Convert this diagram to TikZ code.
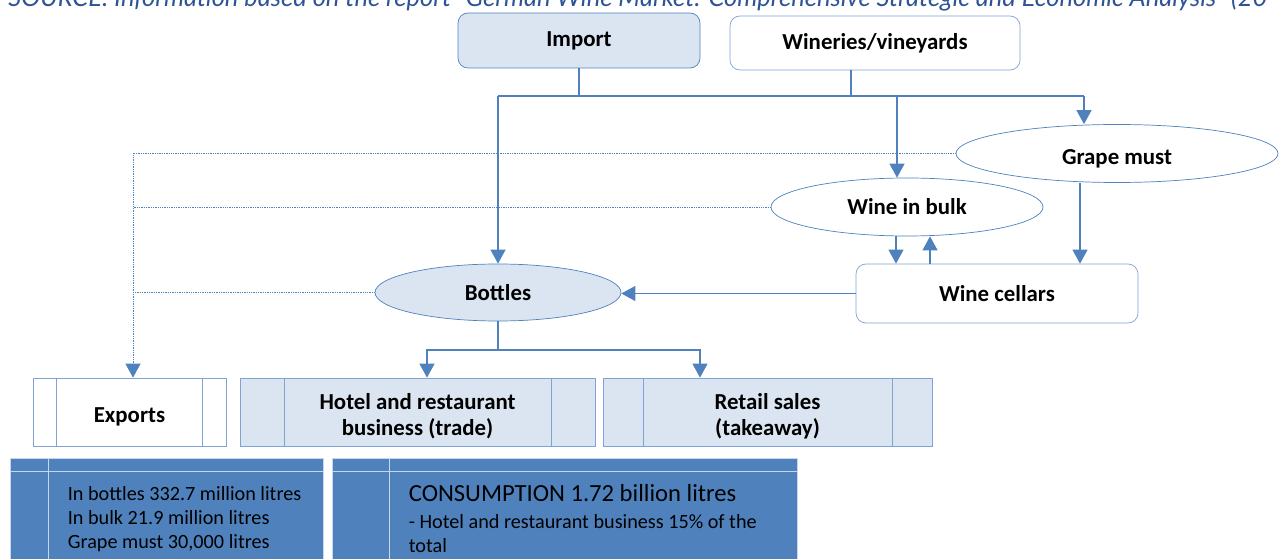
\documentclass[tikz,border=0pt]{standalone}
\usepackage{fontspec}
\setmainfont{Carlito}
\newfontfamily\capfont{Lato}
\usepackage{tikz}
\usetikzlibrary{shapes.geometric,arrows.meta}
\definecolor{wmline}{rgb}{0.31,0.51,0.74}
\definecolor{wmedge}{rgb}{0.50,0.64,0.84}
\definecolor{wmfill}{rgb}{0.86,0.90,0.95}
\definecolor{wmdark}{rgb}{0.31,0.51,0.74}
\definecolor{wmrule}{rgb}{0.78,0.84,0.92}
\definecolor{wmcap}{rgb}{0.18,0.33,0.59}
\tikzstyle{wmsource}=[rectangle, draw=wmedge, rounded corners=0.2cm, minimum height=1.1cm, font=\fontsize{13}{15}\selectfont\bfseries]
\tikzstyle{wmstock}=[ellipse, draw=wmline, minimum height=1.16cm, inner sep=0pt, font=\fontsize{13}{15}\selectfont\bfseries]
\tikzstyle{wmoutlet}=[rectangle, draw=wmedge, minimum height=1.36cm, align=center, font=\fontsize{13}{15}\selectfont\bfseries]
\tikzstyle{wmdata}=[rectangle, draw=wmrule, fill=wmdark, anchor=north west, minimum height=2.4cm]
\tikzstyle{wmtext}=[anchor=north west, align=left, inner sep=0pt, font=\fontsize{11.5}{13.8}\selectfont]
\tikzstyle{conn}=[draw=wmline, line width=0.6pt]
\tikzstyle{arr}=[conn, -{Triangle[width=0.3cm,length=0.28cm]}]
\tikzstyle{dot}=[arr, dash pattern=on 0.5pt off 0.5pt, line width=0.5pt]
\newcommand{\wmoutlet}[5]{
	\node[wmoutlet, fill=#4, minimum width=#3] (#1) at (#2) {\rule{0pt}{2.25ex}#5};}
\newcommand{\wmbars}[3]{
	\draw[draw=wmedge] ([xshift=#2]#1.north west) -- ([xshift=#2]#1.south west);
	\draw[draw=wmedge] ([xshift=-#3]#1.north east) -- ([xshift=-#3]#1.south east);}

\begin{document}
\begin{tikzpicture}
	\useasboundingbox (0,0) rectangle (25.58,-11.18);
	\clip (0,0) rectangle (25.58,-11.18);

	\node[anchor=base west, inner sep=0pt, text=wmcap, font=\capfont\itshape\fontsize{14.5}{16}\selectfont] (src) at (0.16,-0.14) {SOURCE: Information based on the report "German Wine Market: Comprehensive Strategic and Economic Analysis" (20};

	\node[wmsource, draw=wmline, fill=wmfill, minimum width=4.84cm] (imp) at (11.58,-0.81) {Import};
	\node[wmsource, fill=white, minimum width=5.8cm, minimum height=1.08cm] (win) at (17.5,-0.86) {Wineries/vineyards};

	\node[wmstock, fill=white, minimum width=6.44cm] (grape) at (22.34,-3.07) {\rule{0pt}{2.4ex}Grape must};
	\node[wmstock, fill=white, minimum width=5.44cm] (bulk) at (18.14,-4.14) {Wine in bulk};
	\node[wmsource, fill=white, minimum width=5.64cm, minimum height=1.18cm] (cel) at (19.94,-5.87) {Wine cellars};
	\node[wmstock, fill=wmfill, minimum width=4.92cm, minimum height=1.14cm] (bot) at (9.96,-5.85) {Bottles};

	\wmoutlet{exp}{2.59,-8.24}{3.86cm}{white}{Exports}
	\wmoutlet{hot}{8.35,-8.24}{7.1cm}{wmfill}{Hotel and restaurant\\business (trade)}
	\wmoutlet{ret}{15.35,-8.24}{6.58cm}{wmfill}{Retail sales\\(takeaway)}
	\wmbars{exp}{0.48cm}{0.48cm}
	\wmbars{hot}{0.89cm}{0.88cm}
	\wmbars{ret}{0.82cm}{0.8cm}

	\node[wmdata, minimum width=6.26cm] (expdata) at (0.19,-9.15) {};
	\node[wmdata, minimum width=9.3cm] (condata) at (6.63,-9.15) {};
	\draw[draw=wmrule] ([yshift=-0.27cm]expdata.north west) -- ([yshift=-0.27cm]expdata.north east);
	\draw[draw=wmrule] ([xshift=0.77cm]expdata.north west) -- ([xshift=0.77cm]expdata.south west);
	\draw[draw=wmrule] ([yshift=-0.27cm]condata.north west) -- ([yshift=-0.27cm]condata.north east);
	\draw[draw=wmrule] ([xshift=1.15cm]condata.north west) -- ([xshift=1.15cm]condata.south west);
	\node[wmtext] (expnum) at (1.35,-9.72) {In bottles 332.7 million litres\\In bulk 21.9 million litres\\Grape must 30,000 litres};
	\node[wmtext, font=\fontsize{14}{16}\selectfont] (conhead) at (8.17,-9.68) {CONSUMPTION 1.72 billion litres};
	\node[wmtext] (connum) at (8.17,-10.28) {- Hotel and restaurant business 15\% of the\\total};

	\coordinate (busL) at (9.96,-1.92);
	\coordinate (busR) at (21.68,-1.92);
	\coordinate (split) at (9.96,-7.0);
	\coordinate (expin) at ([xshift=0.07cm]exp.north);
	\draw[conn] (imp.south) -- (imp.south |- busL);
	\draw[conn] ([xshift=-0.48cm]win.south) -- ([xshift=-0.48cm]win.south |- busL);
	\draw[conn] (busL) -- (busR);
	\draw[arr] (busL) -- (bot.north);
	\draw[arr] (busR) -- (busR |- grape.north);
	\draw[arr] ([xshift=-0.2cm]bulk.north |- busL) -- ([xshift=-0.2cm]bulk.north);

	\draw[arr] ([xshift=-0.74cm]grape.south) -- ([xshift=-0.74cm]grape.south |- cel.north);
	\draw[arr] ([xshift=-0.22cm]bulk.south) -- ([xshift=-0.22cm]bulk.south |- cel.north);
	\draw[arr] ([xshift=-1.34cm]cel.north) -- ([xshift=-1.34cm]cel.north |- bulk.south);
	\draw[arr] (cel.west) -- (cel.west -| bot.east);

	\draw[conn] (bot.south) -- (split);
	\draw[arr] (split) -| ([xshift=0.19cm]hot.north);
	\draw[arr] (split) -| ([xshift=-1.35cm]ret.north);

	\draw[dot] (grape.west) -| (expin);
	\draw[dot, -] (bulk.west) -- (bulk.west -| expin);
	\draw[dot, -] (bot.west) -- (bot.west -| expin);
\end{tikzpicture}
\end{document}
